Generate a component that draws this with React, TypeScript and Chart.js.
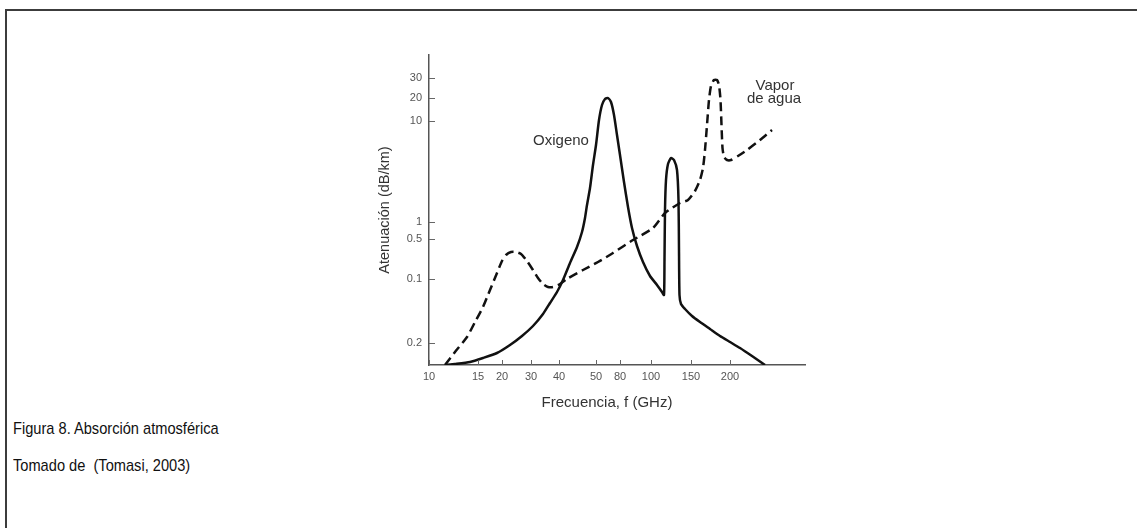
import React, { useEffect, useRef } from 'react';
import { Chart, registerables } from 'chart.js';

Chart.register(...registerables);

// Axis of the scanned figure is non-uniform: tick positions are given in the figure's own axis units
const xTickPositions = [0, 49, 73, 102, 130, 167, 191, 222, 262, 301];
const xTickLabels = ['10', '15', '20', '30', '40', '50', '80', '100', '150', '200'];
const yTickPositions = [22, 86, 126, 143, 244, 267, 287];
const yTickLabels = ['0.2', '0.1', '0.5', '1', '10', '20', '30'];

// Oxígeno (solid)
const oxygenX = [16, 26, 41, 54, 68, 81, 93, 104, 114, 121, 128, 134, 141, 148, 153, 156, 158, 161, 164, 167, 170, 173, 176, 179, 182, 185, 188, 191, 195, 199, 203, 208, 214, 221, 228, 233, 235, 235.5, 236, 237, 239, 242, 245, 248, 249.5, 250, 250.5, 252, 256, 263, 271, 281, 291, 301, 311, 323, 336];
const oxygenY = [0, 1, 3, 7, 12, 20, 29, 39, 51, 62, 73, 85, 102, 118, 133, 147, 160, 177, 200, 220, 245, 260, 266, 267, 263, 250, 230, 210, 183, 158, 137, 119, 103, 89, 80, 73, 70, 105, 155, 185, 201, 207, 205, 195, 165, 115, 70, 61, 56, 49, 43, 36, 29, 23, 17, 9, 0];

// Vapor de agua (dashed)
const vaporX = [16, 26, 38, 46, 54, 61, 68, 73, 77, 82, 87, 92, 98, 104, 109, 114, 119, 124, 131, 138, 154, 169, 184, 204, 224, 236, 251, 259, 266, 271, 274, 276, 278, 280, 282, 285, 288, 290, 291.5, 292.5, 293.5, 295, 298, 302, 309, 318, 331, 343];
const vaporY = [0, 13, 28, 43, 58, 75, 92, 104, 110, 113, 113, 111, 104, 95, 87, 81, 78, 78, 81, 86, 95, 103, 112, 125, 137, 152, 162, 165, 174, 185, 197, 215, 240, 265, 279, 285, 285, 280, 265, 240, 217, 208, 205, 205, 209, 215, 225, 235];

// In-plot labels (figure axis units)
const noteTexts = ['Oxigeno', 'Vapor', 'de agua'];
const noteX = [132, 346, 345];
const noteY = [224, 279, 266];

const xTitle = 'Frecuencia, f (GHz)';
const xTitlePos = 178;
const yTitle = 'Atenuación (dB/km)';

const FONT = '"Liberation Sans", Arial, Helvetica, sans-serif';

const figureExtras = {
  id: 'figureExtras',
  afterDatasetsDraw(chart: any) {
    const { ctx, scales } = chart;
    const x = scales.x;
    const y = scales.y;
    ctx.save();
    ctx.strokeStyle = '#666';
    ctx.lineWidth = 1;
    x.ticks.forEach((t: any) => {
      const px = Math.round(x.getPixelForValue(t.value)) + 0.5;
      ctx.beginPath();
      ctx.moveTo(px, y.bottom);
      ctx.lineTo(px, y.bottom - 5);
      ctx.stroke();
    });
    y.ticks.forEach((t: any) => {
      const py = Math.round(y.getPixelForValue(t.value)) + 0.5;
      ctx.beginPath();
      ctx.moveTo(x.left, py);
      ctx.lineTo(x.left + 6, py);
      ctx.stroke();
    });
    ctx.fillStyle = '#333';
    ctx.font = '15px ' + FONT;
    ctx.textAlign = 'center';
    ctx.textBaseline = 'middle';
    noteTexts.forEach((t, i) => {
      ctx.fillText(t, x.getPixelForValue(noteX[i]), y.getPixelForValue(noteY[i]));
    });
    // x axis title
    ctx.fillText(xTitle, x.getPixelForValue(xTitlePos), y.bottom + 38);
    ctx.restore();
  },
};

export default function App() {
  const ref = useRef<HTMLCanvasElement>(null);

  useEffect(() => {
    if (!ref.current) return;
    const chart = new Chart(ref.current, {
      type: 'scatter',
      data: {
        datasets: [
          {
            label: 'Oxigeno',
            data: oxygenX.map((v, i) => ({ x: v, y: oxygenY[i] })),
            showLine: true,
            borderColor: '#111',
            borderWidth: 2.5,
            pointRadius: 0,
            tension: 0.2,
            fill: false,
          },
          {
            label: 'Vapor de agua',
            data: vaporX.map((v, i) => ({ x: v, y: vaporY[i] })),
            showLine: true,
            borderColor: '#111',
            borderWidth: 2.5,
            borderDash: [9, 5],
            pointRadius: 0,
            tension: 0.2,
            fill: false,
          },
        ],
      },
      options: {
        responsive: false,
        animation: false,
        layout: { padding: { top: 15, right: 15, left: 0, bottom: 0 } },
        plugins: { legend: { display: false }, tooltip: { enabled: false } },
        scales: {
          x: {
            type: 'linear',
            min: 0,
            max: 376,
            afterFit: (s: any) => { s.height = 55; },
            afterBuildTicks: (s: any) => { s.ticks = xTickPositions.map((v) => ({ value: v })); },
            ticks: {
              autoSkip: false,
              maxRotation: 0,
              padding: 5,
              color: '#555',
              font: { family: FONT, size: 11 },
              callback: (_v: any, i: number) => xTickLabels[i],
            },
            grid: { display: false, drawTicks: false },
            border: { display: true, color: '#555', width: 1.5 },
            title: { display: false },
          },
          y: {
            type: 'linear',
            min: 0,
            max: 310,
            afterFit: (s: any) => { s.width = 89; },
            afterBuildTicks: (s: any) => { s.ticks = yTickPositions.map((v) => ({ value: v })); },
            ticks: {
              autoSkip: false,
              padding: 7,
              color: '#555',
              font: { family: FONT, size: 11 },
              callback: (_v: any, i: number) => yTickLabels[i],
            },
            grid: { display: false, drawTicks: false },
            border: { display: true, color: '#555', width: 1.5 },
            title: {
              display: true,
              text: yTitle,
              color: '#333',
              font: { family: FONT, size: 14.5 },
              padding: { top: 36, bottom: 0 },
            },
          },
        },
      },
      plugins: [figureExtras],
    });
    return () => chart.destroy();
  }, []);

  const captionStyle: React.CSSProperties = {
    position: 'absolute',
    left: 13,
    fontSize: 17,
    lineHeight: 1,
    color: '#111',
    whiteSpace: 'pre',
    transform: 'scaleX(0.86)',
    transformOrigin: 'left center',
  };

  return (
    <div style={{ position: 'absolute', left: 0, top: 0, width: 1137, height: 528, background: '#fff', overflow: 'hidden', fontFamily: FONT }}>
      <div style={{ position: 'absolute', left: 5, top: 9, right: 0, bottom: 0, borderTop: '2px solid #3c3c3c', borderLeft: '2px solid #3c3c3c' }} />
      <canvas ref={ref} width={480} height={380} style={{ position: 'absolute', left: 340, top: 40, width: 480, height: 380 }} />
      <div style={{ ...captionStyle, top: 420 }}>Figura 8. Absorción atmosférica</div>
      <div style={{ ...captionStyle, top: 457 }}>Tomado de  (Tomasi, 2003)</div>
    </div>
  );
}
